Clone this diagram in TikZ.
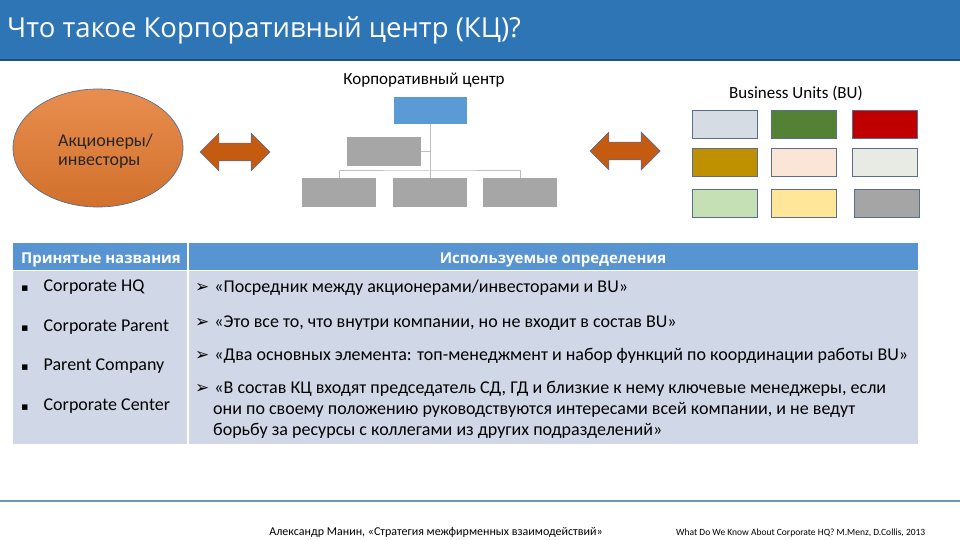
\documentclass[tikz,border=0pt]{standalone}
\usepackage{fontspec}
\setmainfont{Carlito}
\newfontfamily\titlefont{Open Sans}
\newfontfamily\symbfont{DejaVu Sans}
\usetikzlibrary{shapes.geometric, shapes.arrows, positioning, calc}
\definecolor{titleblue}{RGB}{46, 117, 182}
\definecolor{headblue}{RGB}{88, 148, 210}
\definecolor{rowblue}{RGB}{208, 216, 232}
\definecolor{arroworange}{RGB}{197, 90, 17}
\definecolor{ellorange}{RGB}{228, 122, 48}
\definecolor{edgeblue}{RGB}{90, 110, 140}
\definecolor{chartblue}{RGB}{91, 155, 213}
\definecolor{chartgray}{RGB}{166, 166, 166}
\definecolor{linegray}{RGB}{191, 191, 191}
\definecolor{footline}{RGB}{104, 152, 178}
\definecolor{bugray}{RGB}{214, 220, 228}
\definecolor{bugreen}{RGB}{84, 130, 53}
\definecolor{bured}{RGB}{192, 0, 0}
\definecolor{bugold}{RGB}{191, 144, 0}
\definecolor{bupeach}{RGB}{251, 229, 214}
\definecolor{busage}{RGB}{231, 235, 227}
\definecolor{bulime}{RGB}{197, 224, 180}
\definecolor{buyellow}{RGB}{255, 230, 153}
\definecolor{budark}{RGB}{165, 165, 165}
\newcommand{\sqbul}{{\symbfont\fontsize{11}{11}\selectfont ▪}\hspace{15pt}}
\newcommand{\arrbul}{{\symbfont\fontsize{17}{17}\selectfont ➢}\hspace{5pt}}

\begin{document}
\begin{tikzpicture}[x=1pt, y=-1pt, font=\fontsize{18}{21}\selectfont,
  orgbox/.style={fill=chartgray, minimum width=74pt, minimum height=29pt, inner sep=0pt},
  bubox/.style={draw=edgeblue, line width=0.7pt, minimum width=65pt, minimum height=28pt, inner sep=0pt},
  dblarrow/.style={double arrow, draw=edgeblue, fill=arroworange, line width=0.7pt, minimum height=70pt, text height=8.5pt, text depth=8.5pt, text width=0pt, double arrow head extend=10pt, inner sep=0pt},
  orgline/.style={draw=linegray, line width=1pt},
  headtxt/.style={inner sep=0pt, text=white, font=\titlefont\bfseries\fontsize{15}{18}\selectfont},
  lbl/.style={anchor=base west, inner sep=0pt}]
  \useasboundingbox (0,0) rectangle (960,540);

  % Title
  \fill[titleblue] (0,0) rectangle (960,60);
  \draw[titleblue!70!black, line width=1.5pt] (0,60) -- (960,60);
  \node[lbl, text=white, font=\titlefont\fontsize{27.5}{30}\selectfont] (title) at (7,38) {Что такое Корпоративный центр (КЦ)?};

  % Shareholders
  \node[ellipse, draw=edgeblue, top color=ellorange!85!white, bottom color=ellorange!92!black, line width=0.7pt, minimum width=170pt, minimum height=118pt, inner sep=0pt] (holders) at (98,148) {};
  \node[anchor=west, align=left, inner sep=0pt, text=black!85, font=\fontsize{18}{19}\selectfont] (holderstxt) at (58,151) {Акционеры/\\инвесторы};

  \node[dblarrow] (arrowl) at (235,152) {};
  \node[dblarrow] (arrowr) at (625,151) {};

  % Corporate centre
  \node[anchor=base, inner sep=0pt, font=\fontsize{17}{20}\selectfont] (cctitle) at (424,85) {Корпоративный центр};
  \node[orgbox, fill=chartblue, minimum width=73pt, minimum height=27pt] (ctop) at (430,110.5) {};
  \node[orgbox] (cmid) at (384,152) {};
  \node[orgbox] (cb1) at (339,192.5) {};
  \node[orgbox] (cb2) at (430,192.5) {};
  \node[orgbox] (cb3) at (520,192.5) {};
  \coordinate (bus) at (430,171);
  \draw[orgline] (ctop.south) -- (cb2.north);
  \draw[orgline] (cmid.east) -- (cmid.east -| ctop.south);
  \draw[orgline] (cb1.north) |- (bus) -| (cb3.north);

  % Business units
  \node[anchor=base, inner sep=0pt, font=\fontsize{17}{20}\selectfont] (butitle) at (796,99) {Business Units (BU)};
  \node[bubox, fill=bugray] (bu1) at (724.5,124) {};
  \node[bubox, fill=bugreen] (bu2) at (804,124) {};
  \node[bubox, fill=bured] (bu3) at (884.5,124) {};
  \node[bubox, fill=bugold] (bu4) at (724.5,162) {};
  \node[bubox, fill=bupeach] (bu5) at (804,162) {};
  \node[bubox, fill=busage] (bu6) at (884.5,162) {};
  \node[bubox, fill=bulime] (bu7) at (724.5,203) {};
  \node[bubox, fill=buyellow] (bu8) at (804,203) {};
  \node[bubox, fill=budark] (bu9) at (887,203) {};

  % Table
  \node[fill=headblue, anchor=north west, minimum width=905pt, minimum height=27pt, inner sep=0pt] (thead) at (13,243) {};
  \node[fill=rowblue, anchor=north west, minimum width=905pt, minimum height=173pt, inner sep=0pt] (tbody) at (13,271) {};
  \draw[white, line width=1pt] (thead.south west) -- (thead.south east);
  \draw[white, line width=1.2pt] (188,243) -- (188,444);
  \node[headtxt, anchor=base west] (hname) at (21,263) {Принятые названия};
  \node[headtxt, anchor=base] (hdef) at (553,263) {Используемые определения};

  \node[lbl] (name1) at (21,291) {\sqbul Corporate HQ};
  \node[lbl] (name2) at (21,331) {\sqbul Corporate Parent};
  \node[lbl] (name3) at (21,370) {\sqbul Parent Company};
  \node[lbl] (name4) at (21,410) {\sqbul Corporate Center};

  \node[lbl] (def1) at (195,292) {\arrbul «Посредник между акционерами/инвесторами и BU»};
  \node[lbl] (def2) at (195,327) {\arrbul «Это все то, что внутри компании, но не входит в состав BU»};
  \node[lbl] (def3) at (195,360) {\arrbul «Два основных элемента: топ-менеджмент и набор функций по координации работы BU»};
  \node[lbl, align=left] (def4) at (195,435) {\arrbul «В состав КЦ входят председатель СД, ГД и близкие к нему ключевые менеджеры, если\\
    \hspace{18pt}они по своему положению руководствуются интересами всей компании, и не ведут\\
    \hspace{18pt}борьбу за ресурсы с коллегами из других подразделений»};

  % Footer
  \draw[footline, line width=2.5pt] (0,501) -- (960,501);
  \node[anchor=base, inner sep=0pt, font=\fontsize{12}{13}\selectfont] (src1) at (436,535) {Александр Манин, «Стратегия межфирменных взаимодействий»};
  \node[lbl, font=\fontsize{9.5}{11}\selectfont] (src2) at (676,535) {What Do We Know About Corporate HQ? M.Menz, D.Collis, 2013};
\end{tikzpicture}
\end{document}
